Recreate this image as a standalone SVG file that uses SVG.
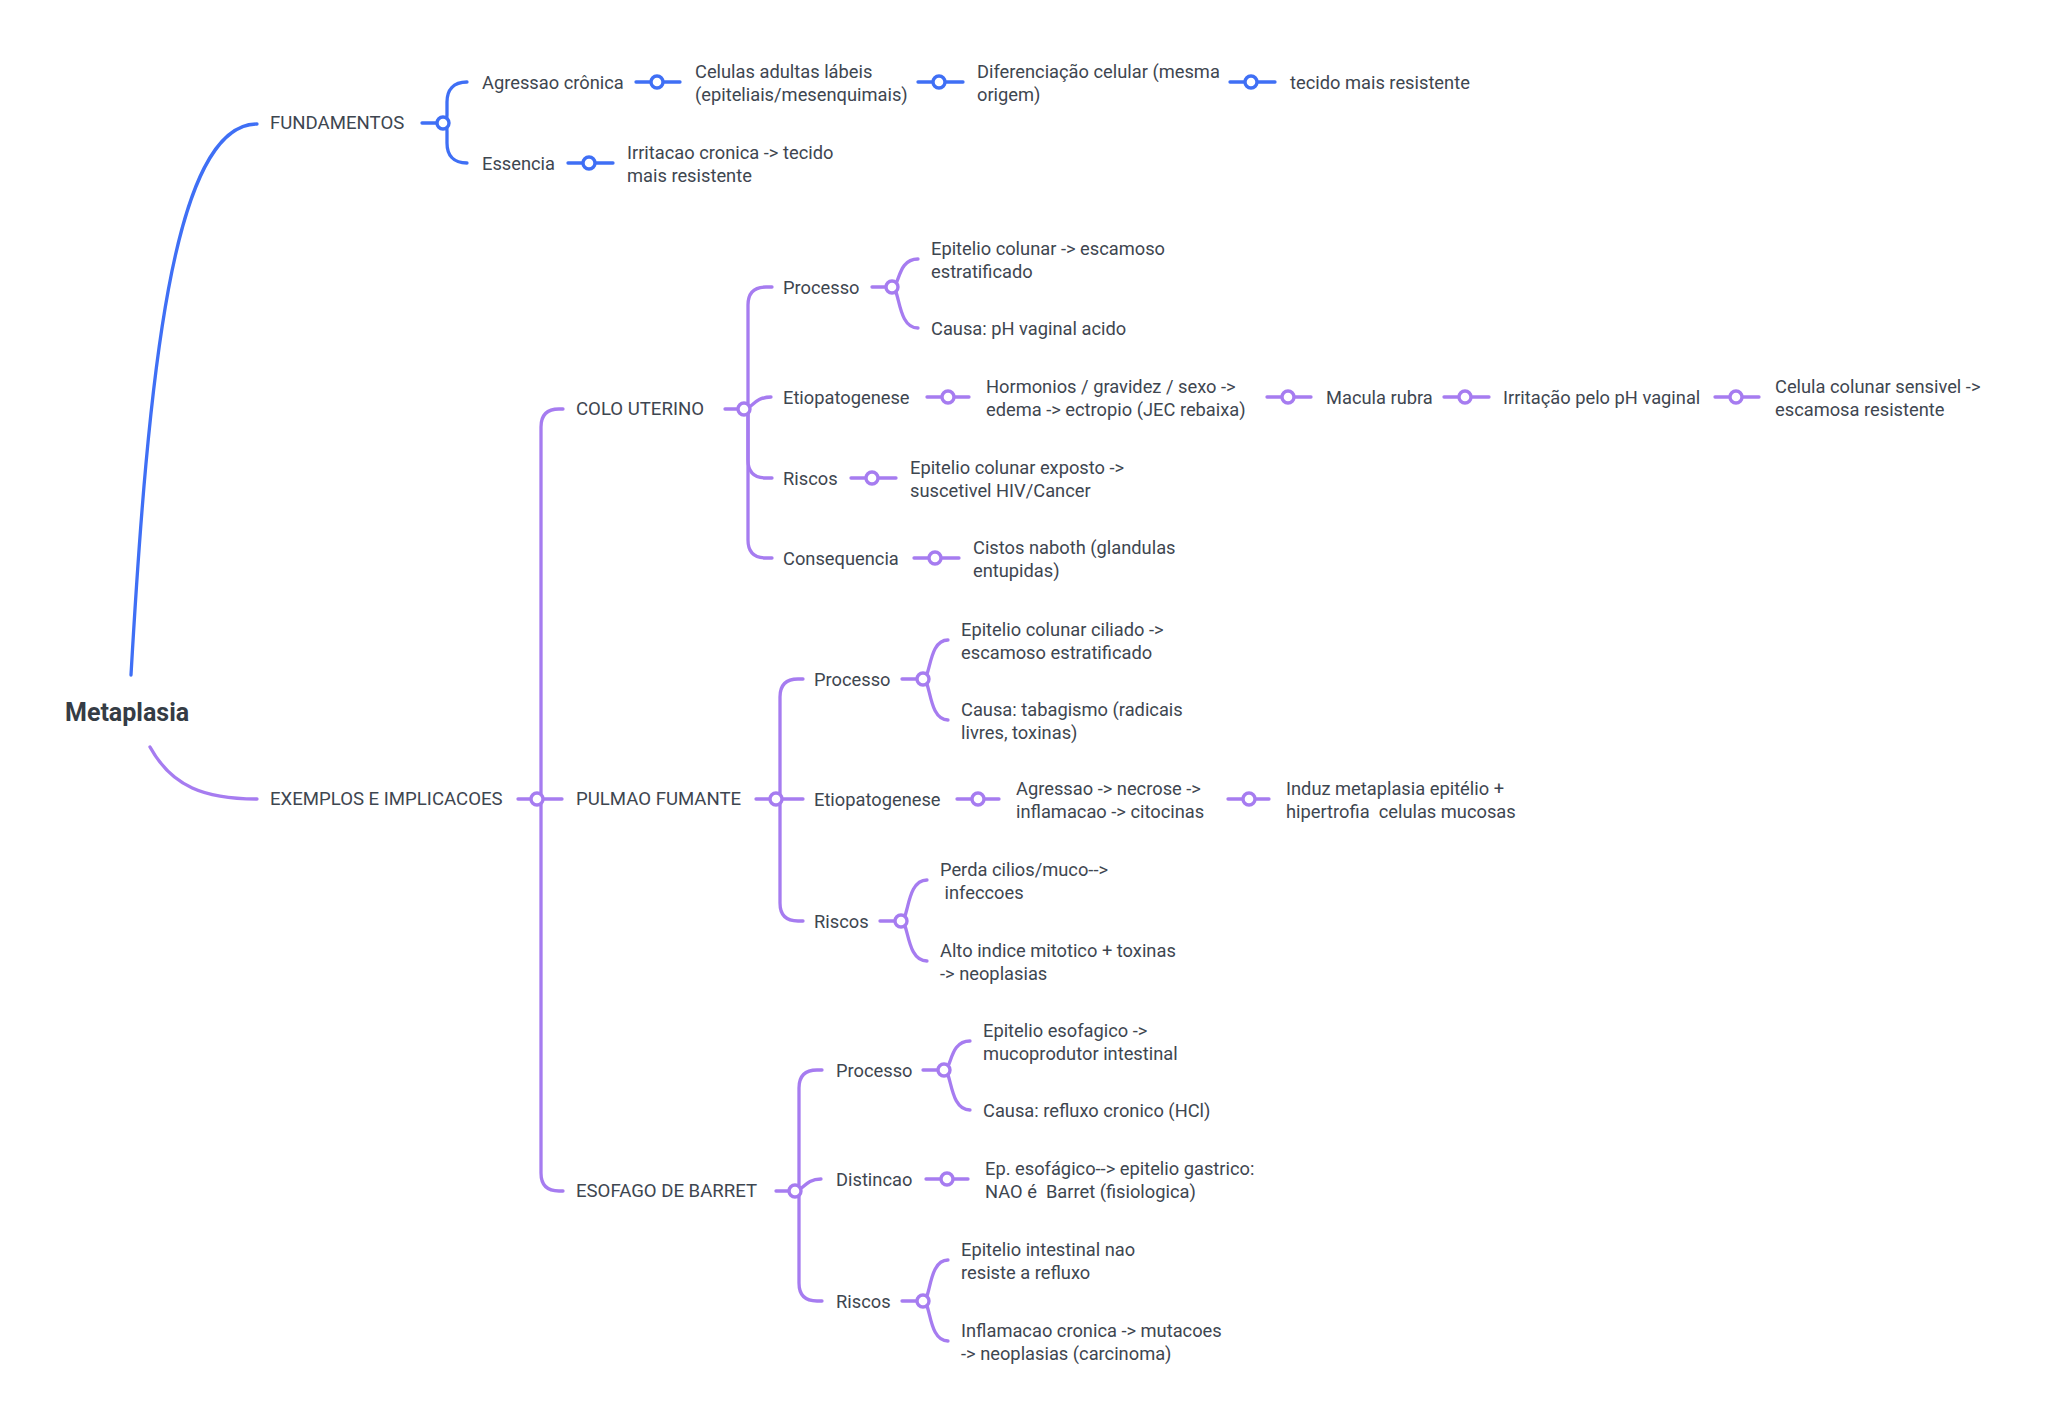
<svg xmlns="http://www.w3.org/2000/svg" width="2048" height="1425" viewBox="0 0 2048 1425">
<style>
text{font-family:Roboto,"Liberation Sans",sans-serif;font-size:18.3px;fill:#3e4650;dominant-baseline:central;white-space:pre}
.up{font-size:18.6px}
.root{font-size:25px;font-weight:bold;fill:#353c45}
.b{stroke:#3f6ff5;fill:none;stroke-width:3.3;stroke-linecap:round}
.p{stroke:#a67cf0;fill:none;stroke-width:3.3;stroke-linecap:round}
.cb{stroke:#3f6ff5;fill:#fff;stroke-width:3.4}
.cp{stroke:#a67cf0;fill:#fff;stroke-width:3.4}
</style>
<rect width="2048" height="1425" fill="#fff"/>
<g id="connectors">
<path class="b" d="M131 675 C148 380 172 124 257 124"/>
<path class="p" d="M150 747 C172 787 205 799 257 799"/>
<!-- FUNDAMENTOS -->
<path class="b" d="M422 123 L443 123"/>
<path class="b" d="M443 123 Q447 123 447 115 L447 102 C447 90 453 82 467 82"/>
<path class="b" d="M443 123 Q447 123 447 131 L447 143 C447 155 453 163 467 163"/>
<path class="b" d="M636 82 L680 82"/>
<path class="b" d="M918 82 L963 82"/>
<path class="b" d="M1230 82 L1275 82"/>
<path class="b" d="M568 163 L613 163"/>
<!-- EXEMPLOS -->
<path class="p" d="M518 799 L562 799"/>
<path class="p" d="M537 799 Q541 799 541 793 L541 427 Q541 409 559 409 L563 409"/>
<path class="p" d="M537 799 Q541 799 541 805 L541 1173 Q541 1191 559 1191 L563 1191"/>
<!-- COLO -->
<path class="p" d="M725 409 L744 409"/>
<path class="p" d="M744 409 Q748 409 748 403 L748 305 Q748 287 766 287 L772 287"/>
<path class="p" d="M744 409 C752 409 754 397 771 397"/>
<path class="p" d="M744 409 Q748 409 748 415 L748 460 Q748 478 766 478 L772 478"/>
<path class="p" d="M744 409 Q748 409 748 415 L748 540 Q748 558 766 558 L772 558"/>
<path class="p" d="M872 287 L892 287"/>
<path class="p" d="M892 287 C900 287 897 259 918 259"/>
<path class="p" d="M892 287 C900 287 897 328 918 328"/>
<path class="p" d="M927 397 L969 397"/>
<path class="p" d="M1267 397 L1311 397"/>
<path class="p" d="M1444 397 L1489 397"/>
<path class="p" d="M1715 397 L1759 397"/>
<path class="p" d="M851 478 L896 478"/>
<path class="p" d="M914 558 L959 558"/>
<!-- PULMAO -->
<path class="p" d="M756 799 L803 799"/>
<path class="p" d="M776 799 Q780 799 780 793 L780 697 Q780 679 798 679 L803 679"/>
<path class="p" d="M776 799 Q780 799 780 805 L780 903 Q780 921 798 921 L803 921"/>
<path class="p" d="M902 679 L923 679"/>
<path class="p" d="M923 679 C931 679 928 640 948 640"/>
<path class="p" d="M923 679 C931 679 928 720 948 720"/>
<path class="p" d="M957 799 L999 799"/>
<path class="p" d="M1228 799 L1269 799"/>
<path class="p" d="M880 921 L901 921"/>
<path class="p" d="M901 921 C909 921 906 880 927 880"/>
<path class="p" d="M901 921 C909 921 906 961 927 961"/>
<!-- ESOFAGO -->
<path class="p" d="M776 1191 L795 1191"/>
<path class="p" d="M795 1191 Q799 1191 799 1185 L799 1088 Q799 1070 817 1070 L822 1070"/>
<path class="p" d="M795 1191 C803 1191 805 1179 821 1179"/>
<path class="p" d="M795 1191 Q799 1191 799 1197 L799 1283 Q799 1301 817 1301 L822 1301"/>
<path class="p" d="M923 1070 L944 1070"/>
<path class="p" d="M944 1070 C952 1070 949 1041 970 1041"/>
<path class="p" d="M944 1070 C952 1070 949 1110 970 1110"/>
<path class="p" d="M926 1179 L968 1179"/>
<path class="p" d="M902 1301 L923 1301"/>
<path class="p" d="M923 1301 C931 1301 928 1260 948 1260"/>
<path class="p" d="M923 1301 C931 1301 928 1341 948 1341"/>
<!-- circles -->
<circle class="cb" cx="443" cy="123" r="6"/>
<circle class="cb" cx="657" cy="82" r="6"/>
<circle class="cb" cx="939" cy="82" r="6"/>
<circle class="cb" cx="1251" cy="82" r="6"/>
<circle class="cb" cx="589" cy="163" r="6"/>
<circle class="cp" cx="537" cy="799" r="6"/>
<circle class="cp" cx="744" cy="409" r="6"/>
<circle class="cp" cx="892" cy="287" r="6"/>
<circle class="cp" cx="948" cy="397" r="6"/>
<circle class="cp" cx="1288" cy="397" r="6"/>
<circle class="cp" cx="1465" cy="397" r="6"/>
<circle class="cp" cx="1736" cy="397" r="6"/>
<circle class="cp" cx="872" cy="478" r="6"/>
<circle class="cp" cx="935" cy="558" r="6"/>
<circle class="cp" cx="776" cy="799" r="6"/>
<circle class="cp" cx="923" cy="679" r="6"/>
<circle class="cp" cx="978" cy="799" r="6"/>
<circle class="cp" cx="1249" cy="799" r="6"/>
<circle class="cp" cx="901" cy="921" r="6"/>
<circle class="cp" cx="795" cy="1191" r="6"/>
<circle class="cp" cx="944" cy="1070" r="6"/>
<circle class="cp" cx="947" cy="1179" r="6"/>
<circle class="cp" cx="923" cy="1301" r="6"/>
</g>
<g id="root"><text class="root" x="65" y="712">Metaplasia</text></g>
<g id="n-fundamentos"><text class="up" x="270" y="123">FUNDAMENTOS</text></g>
<g id="n-agressao"><text x="482" y="82">Agressao crônica</text></g>
<g id="n-celulas"><text x="695" y="82"><tspan x="695" y="70.5">Celulas adultas lábeis</tspan><tspan x="695" y="93.5">(epiteliais/mesenquimais)</tspan></text></g>
<g id="n-diferenciacao"><text x="977" y="82"><tspan x="977" y="70.5">Diferenciação celular (mesma</tspan><tspan x="977" y="93.5">origem)</tspan></text></g>
<g id="n-tecido"><text x="1290" y="82">tecido mais resistente</text></g>
<g id="n-essencia"><text x="482" y="163">Essencia</text></g>
<g id="n-irritacao"><text x="627" y="163"><tspan x="627" y="151.5">Irritacao cronica -&gt; tecido</tspan><tspan x="627" y="174.5">mais resistente</tspan></text></g>
<g id="n-exemplos"><text class="up" x="270" y="799">EXEMPLOS E IMPLICACOES</text></g>
<g id="n-colo"><text class="up" x="576" y="409">COLO UTERINO</text></g>
<g id="n-colo-processo"><text x="783" y="287">Processo</text></g>
<g id="n-colo-epitelio"><text x="931" y="259"><tspan x="931" y="247.5">Epitelio colunar -&gt; escamoso</tspan><tspan x="931" y="270.5">estratificado</tspan></text></g>
<g id="n-colo-causa"><text x="931" y="328">Causa: pH vaginal acido</text></g>
<g id="n-colo-etio"><text x="783" y="397">Etiopatogenese</text></g>
<g id="n-hormonios"><text x="986" y="397"><tspan x="986" y="385.5">Hormonios / gravidez / sexo -&gt;</tspan><tspan x="986" y="408.5">edema -&gt; ectropio (JEC rebaixa)</tspan></text></g>
<g id="n-macula"><text x="1326" y="397">Macula rubra</text></g>
<g id="n-irritacao-ph"><text x="1503" y="397">Irritação pelo pH vaginal</text></g>
<g id="n-celula-colunar"><text x="1775" y="397"><tspan x="1775" y="385.5">Celula colunar sensivel -&gt;</tspan><tspan x="1775" y="408.5">escamosa resistente</tspan></text></g>
<g id="n-colo-riscos"><text x="783" y="478">Riscos</text></g>
<g id="n-colo-exposto"><text x="910" y="478"><tspan x="910" y="466.5">Epitelio colunar exposto -&gt;</tspan><tspan x="910" y="489.5">suscetivel HIV/Cancer</tspan></text></g>
<g id="n-colo-consequencia"><text x="783" y="558">Consequencia</text></g>
<g id="n-cistos"><text x="973" y="558"><tspan x="973" y="546.5">Cistos naboth (glandulas</tspan><tspan x="973" y="569.5">entupidas)</tspan></text></g>
<g id="n-pulmao"><text class="up" x="576" y="799">PULMAO FUMANTE</text></g>
<g id="n-pulmao-processo"><text x="814" y="679">Processo</text></g>
<g id="n-pulmao-epitelio"><text x="961" y="640"><tspan x="961" y="628.5">Epitelio colunar ciliado -&gt;</tspan><tspan x="961" y="651.5">escamoso estratificado</tspan></text></g>
<g id="n-pulmao-causa"><text x="961" y="720"><tspan x="961" y="708.5">Causa: tabagismo (radicais</tspan><tspan x="961" y="731.5">livres, toxinas)</tspan></text></g>
<g id="n-pulmao-etio"><text x="814" y="799">Etiopatogenese</text></g>
<g id="n-agressao-necrose"><text x="1016" y="799"><tspan x="1016" y="787.5">Agressao -&gt; necrose -&gt;</tspan><tspan x="1016" y="810.5">inflamacao -&gt; citocinas</tspan></text></g>
<g id="n-induz"><text x="1286" y="799"><tspan x="1286" y="787.5">Induz metaplasia epitélio +</tspan><tspan x="1286" y="810.5">hipertrofia  celulas mucosas</tspan></text></g>
<g id="n-pulmao-riscos"><text x="814" y="921">Riscos</text></g>
<g id="n-perda"><text x="940" y="880"><tspan x="940" y="868.5">Perda cilios/muco--&gt;</tspan><tspan x="940" y="891.5"> infeccoes</tspan></text></g>
<g id="n-alto"><text x="940" y="961"><tspan x="940" y="949.5">Alto indice mitotico + toxinas</tspan><tspan x="940" y="972.5">-&gt; neoplasias</tspan></text></g>
<g id="n-esofago"><text class="up" x="576" y="1191">ESOFAGO DE BARRET</text></g>
<g id="n-esofago-processo"><text x="836" y="1070">Processo</text></g>
<g id="n-esofago-epitelio"><text x="983" y="1041"><tspan x="983" y="1029.5">Epitelio esofagico -&gt;</tspan><tspan x="983" y="1052.5">mucoprodutor intestinal</tspan></text></g>
<g id="n-esofago-causa"><text x="983" y="1110">Causa: refluxo cronico (HCl)</text></g>
<g id="n-distincao"><text x="836" y="1179">Distincao</text></g>
<g id="n-ep-esofagico"><text x="985" y="1179"><tspan x="985" y="1167.5">Ep. esofágico--&gt; epitelio gastrico:</tspan><tspan x="985" y="1190.5">NAO é  Barret (fisiologica)</tspan></text></g>
<g id="n-esofago-riscos"><text x="836" y="1301">Riscos</text></g>
<g id="n-intestinal"><text x="961" y="1260"><tspan x="961" y="1248.5">Epitelio intestinal nao</tspan><tspan x="961" y="1271.5">resiste a refluxo</tspan></text></g>
<g id="n-inflamacao"><text x="961" y="1341"><tspan x="961" y="1329.5">Inflamacao cronica -&gt; mutacoes</tspan><tspan x="961" y="1352.5">-&gt; neoplasias (carcinoma)</tspan></text></g>
</svg>
